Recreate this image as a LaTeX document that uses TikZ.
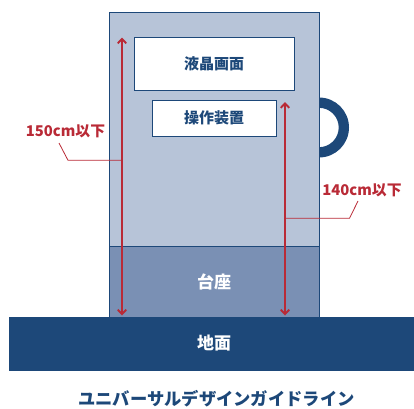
\documentclass[tikz,border=0pt]{standalone}
\usepackage{fontspec}
\setmainfont{Noto Sans CJK JP}
\usetikzlibrary{arrows.meta}
\definecolor{navy}{HTML}{1D4879}
\definecolor{bodyblue}{HTML}{B7C4D8}
\definecolor{baseblue}{HTML}{7A90B4}
\definecolor{dimred}{HTML}{B92A36}
\tikzset{
  x=1pt,y=-1pt,
  panel/.style={draw=navy,line width=0.9pt,fill=white,text=navy,font=\fontsize{15}{17}\selectfont\bfseries},
  dimarrow/.style={draw=dimred,color=dimred,line width=1.9pt,{Straight Barb[length=4.5pt,width=8.5pt]}-{Straight Barb[length=4.5pt,width=8.5pt]}},
  leader/.style={draw=dimred,line width=0.8pt},
  dimtext/.style={text=dimred,inner sep=0,font=\fontsize{14.8}{16}\selectfont\bfseries},
  whitetext/.style={text=white,inner sep=0,font=\fontsize{17}{19}\selectfont\bfseries}
}
\begin{document}
\begin{tikzpicture}
\useasboundingbox (0,0) rectangle (414,408);
% handle
\fill[navy] (319,97.5) arc[start angle=-90,end angle=90,radius=30] -- (319,147.2) arc[start angle=90,end angle=-90,radius=19.7] -- cycle;
% body and base
\path[draw=navy,line width=0.9pt,fill=bodyblue] (109.5,12) rectangle (319.5,246.5);
\path[draw=navy,line width=0.9pt,fill=baseblue] (109.5,246.5) rectangle (319.5,317);
\node[whitetext] (base) at (214,282) {台座};
% ground
\fill[navy] (8.5,317) rectangle (414,371);
\node[whitetext] (ground) at (214,343.5) {地面};
% panels
\node[panel,minimum width=160pt,minimum height=53pt] (lcd) at (214,63.5) {液晶画面};
\node[panel,minimum width=124pt,minimum height=36pt] (ops) at (214,118) {操作装置};
% dimension arrows
\coordinate (a1t) at (122,37.5);
\coordinate (a1b) at (122,315.5);
\coordinate (a2t) at (285,102);
\coordinate (a2b) at (285,315.5);
\draw[dimarrow] (a2t) -- (a2b);
\draw[dimarrow] (a1t) -- (a1b);
\fill[dimred] (121,39) rectangle (123,314);
% labels
\node[dimtext] (l150) at (65.5,131.5) {150cm以下};
\node[dimtext] (l140) at (362,190) {140cm以下};
\coordinate (k1) at (68,160.3);
\coordinate (k2) at (349.5,218.3);
\coordinate (j1) at (122,160.3);
\coordinate (j2) at (285,218.3);
\coordinate (e1) at (59,143);
\coordinate (e2) at (358,201);
\draw[leader] (j1) -- (k1) -- (e1);
\draw[leader] (j2) -- (k2) -- (e2);
% title
\node[inner sep=0,text=navy,font=\fontsize{17.3}{19}\selectfont\bfseries] (title) at (216.5,398.5) {ユニバーサルデザインガイドライン};
\end{tikzpicture}
\end{document}
